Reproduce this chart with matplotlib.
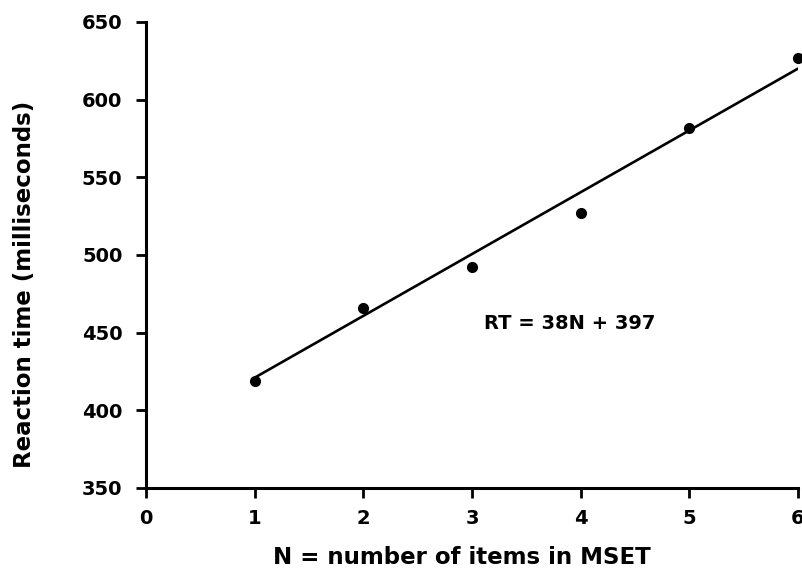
import matplotlib
matplotlib.use("Agg")
import matplotlib.pyplot as plt

# Data
set_size = [1, 2, 3, 4, 5, 6]
reaction_ms = [419, 466, 492, 527, 582, 627]
fit_x = [1, 6]
fit_y = [421, 620]
equation_label = "RT = 38N + 397"
x_ticks = [0, 1, 2, 3, 4, 5, 6]
y_ticks = [350, 400, 450, 500, 550, 600, 650]

plt.rcParams['font.family'] = ['DejaVu Sans']

fig = plt.figure(figsize=(8.03, 5.71), dpi=100)
ax = fig.add_axes([0.1818, 0.1454, 0.8120, 0.8161])

ax.plot(fit_x, fit_y, color='black', linewidth=1.9, solid_capstyle='round')
ax.plot(set_size, reaction_ms, 'o', color='black', markersize=7, zorder=3, clip_on=False)

ax.set_xlim(0, 6)
ax.set_ylim(350, 650)
ax.set_xticks(x_ticks)
ax.set_yticks(y_ticks)

for s in ['top', 'right']:
    ax.spines[s].set_visible(False)
for s in ['left', 'bottom']:
    ax.spines[s].set_linewidth(2.2)
    ax.spines[s].set_clip_on(False)

ax.tick_params(axis='both', direction='out', length=7, width=2, labelsize=14, colors='black')
ax.tick_params(axis='y', pad=10)
ax.tick_params(axis='x', pad=8)
for lab in ax.get_xticklabels() + ax.get_yticklabels():
    lab.set_fontweight('bold')

ax.set_ylabel("Reaction time (milliseconds)", fontsize=16.5, fontweight='bold')
ax.set_xlabel("N = number of items in MSET", fontsize=16.5, fontweight='bold')
ax.yaxis.set_label_coords(-0.169, 0.436)
ax.xaxis.set_label_coords(0.485, -0.1245)

ax.text(3.9, 456, equation_label, fontsize=14, fontweight='bold', ha='center', va='center')

fig.savefig("out.png", dpi=100)
